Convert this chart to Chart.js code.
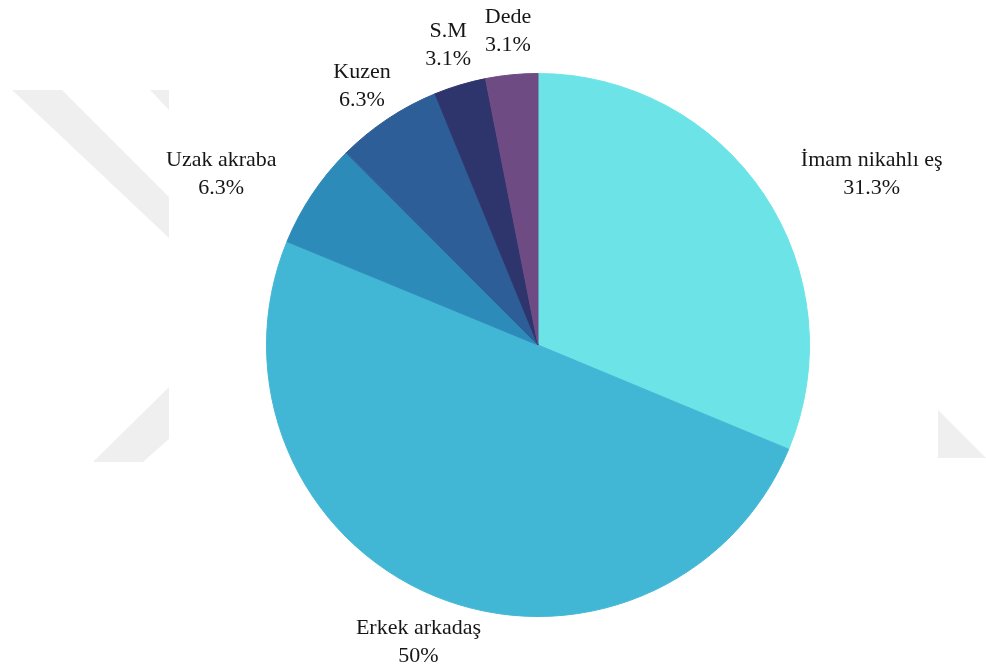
<!DOCTYPE html>
<html>
<head>
<meta charset="utf-8">
<script src="https://cdn.jsdelivr.net/npm/chart.js@4.4.1/dist/chart.umd.min.js"></script>
<style>
  html, body { margin: 0; padding: 0; background: #fff; }
  #wrap { width: 986px; height: 666px; }
</style>
</head>
<body>
<div id="wrap"><canvas id="pie" width="986" height="666"></canvas></div>
<script>
const categories = ['İmam nikahlı eş', 'Erkek arkadaş', 'Uzak akraba', 'Kuzen', 'S.M', 'Dede'];
const shares = [31.3, 50, 6.3, 6.3, 3.1, 3.1];
const sliceColors = ['#6be3e7', '#42b7d5', '#2d8bba', '#2e5e97', '#2e356c', '#6f4b84'];

// how far each label sits beyond the rim, plus a small hand nudge
const labelGap = [30, 15, 42, 14, 14, 14];
const labelNudge = [[24, 12], [14, 7], [-10, 19], [-2, 2], [-1, 0], [0, -2]];

const FONT = '22px "Liberation Serif", "Times New Roman", serif';
const LINE_H = 28;

// faint background emblem behind the plot
const emblem = {
  id: 'emblem',
  beforeDraw(chart) {
    const ctx = chart.ctx;
    const shapes = [
      [[12, 90], [62, 90], [169, 197], [169, 238]],
      [[150, 90], [169, 90], [169, 110]],
      [[93, 462], [143, 462], [169, 439], [169, 387]],
      [[938, 410], [986, 458], [938, 458]]
    ];
    ctx.save();
    ctx.fillStyle = '#efefef';
    shapes.forEach(pts => {
      ctx.beginPath();
      pts.forEach((p, i) => i ? ctx.lineTo(p[0], p[1]) : ctx.moveTo(p[0], p[1]));
      ctx.closePath();
      ctx.fill();
    });
    ctx.restore();
  }
};

// name + percentage outside each slice
const outsideLabels = {
  id: 'outsideLabels',
  afterDatasetsDraw(chart) {
    const ctx = chart.ctx;
    const meta = chart.getDatasetMeta(0);
    ctx.save();
    ctx.font = FONT;
    ctx.fillStyle = '#161616';
    ctx.textAlign = 'center';
    ctx.textBaseline = 'middle';
    meta.data.forEach((arc, i) => {
      const p = arc.getProps(['x', 'y', 'startAngle', 'endAngle', 'outerRadius'], true);
      const mid = (p.startAngle + p.endAngle) / 2;
      const dx = Math.cos(mid), dy = Math.sin(mid);
      const lines = [categories[i], shares[i] + '%'];
      const w = Math.max(...lines.map(t => ctx.measureText(t).width));
      const h = LINE_H * lines.length;
      const r = p.outerRadius + labelGap[i];
      const cx = p.x + dx * r + dx * w / 2 + labelNudge[i][0];
      const cy = p.y + dy * r + dy * h / 2 + labelNudge[i][1];
      lines.forEach((t, k) => {
        ctx.fillText(t, cx, cy - h / 2 + LINE_H * (k + 0.5));
      });
    });
    ctx.restore();
  }
};

new Chart(document.getElementById('pie'), {
  type: 'pie',
  data: {
    labels: categories,
    datasets: [{
      data: shares,
      backgroundColor: sliceColors,
      borderColor: sliceColors,
      borderWidth: 1
    }]
  },
  options: {
    responsive: false,
    animation: false,
    layout: { padding: { left: 200, right: 110, top: 73, bottom: 49 } },
    plugins: {
      legend: { display: false },
      tooltip: { enabled: false }
    }
  },
  plugins: [emblem, outsideLabels]
});
</script>
</body>
</html>
